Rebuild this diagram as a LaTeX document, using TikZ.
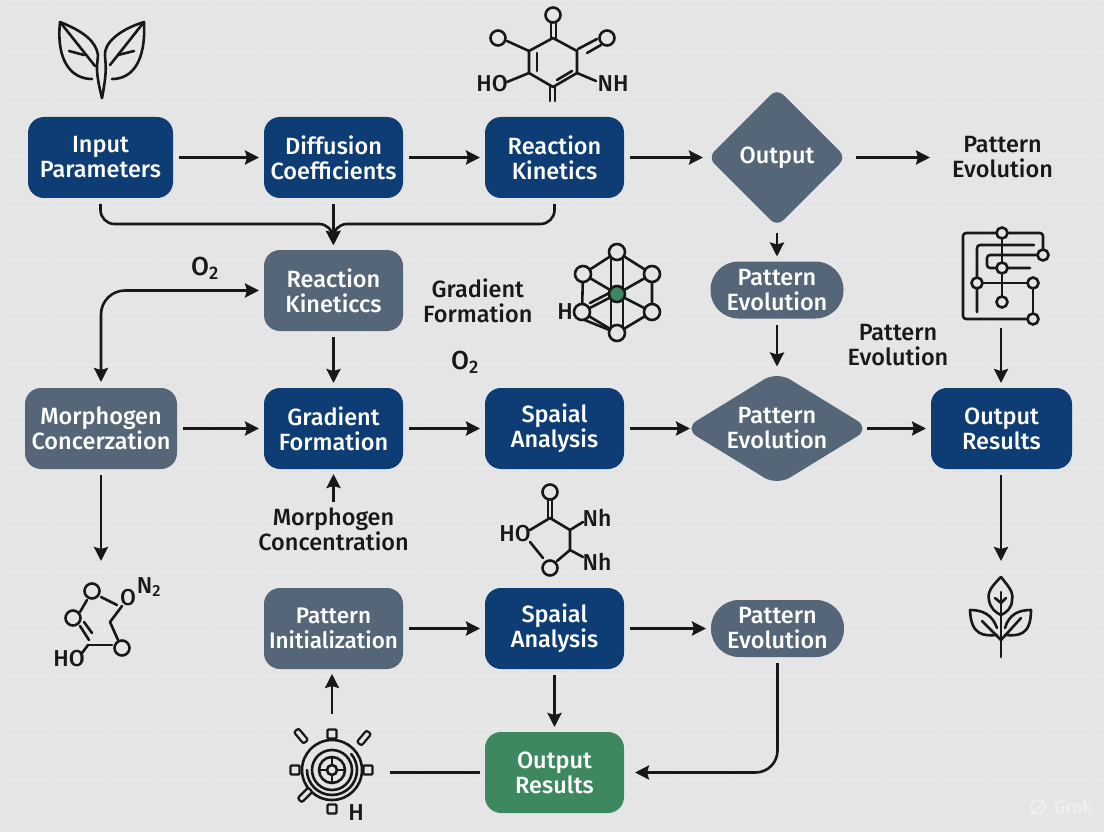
\documentclass[tikz,border=0pt]{standalone}
\usepackage{fontspec}
\setmainfont{Fira Sans Medium}
\usetikzlibrary{arrows.meta,positioning,shapes.geometric}
\definecolor{pagebg}{RGB}{229,229,229}
\definecolor{gridtone}{RGB}{233,233,233}
\definecolor{boxnavy}{RGB}{14,61,117}
\definecolor{boxslate}{RGB}{84,102,120}
\definecolor{boxgreen}{RGB}{62,136,96}
\definecolor{inkdark}{RGB}{24,24,24}
\definecolor{markfaint}{RGB}{238,239,239}

\begin{document}
\begin{tikzpicture}[x=1pt,y=-1pt,
      box/.style={rectangle,rounded corners=16pt,fill=boxnavy,text=white,inner sep=0pt,outer sep=0pt,
                  minimum height=81pt,minimum width=139pt,align=center,font=\fontsize{23.5}{25}\selectfont},
      slate/.style={box,fill=boxslate},
      pill/.style={slate,rounded corners=28pt,minimum height=57pt,minimum width=133pt},
      gate/.style={diamond,rounded corners=9pt,fill=boxslate,text=white,inner sep=0pt,outer sep=0pt,
                  align=center,font=\fontsize{23.5}{25}\selectfont},
      lbl/.style={align=center,text=inkdark,inner sep=0pt,font=\fontsize{23.5}{25}\selectfont},
      a/.style={-{Stealth[length=14pt,width=14pt,inset=2pt]},draw=inkdark,line width=2.6pt,shorten <=6pt,shorten >=5pt},
      ico/.style={draw=inkdark,line width=2.6pt,line cap=round,line join=round},
      atom/.style={circle,draw=inkdark,line width=2.6pt,fill=pagebg,inner sep=0pt,minimum size=15pt},
      chem/.style={text=inkdark,inner sep=0pt,font=\fontsize{23}{25}\selectfont}]
    \useasboundingbox (0,0) rectangle (1104,832);
    \fill[pagebg] (0,0) rectangle (1104,832);
    \draw[gridtone,line width=1pt] (0,0) grid[step=52pt] (1104,832);
    % top row
    \node[box,minimum width=145pt] (in) at (100.5,157.5) {Input\\Parameters};
    \node[box,right=91pt of in] (diff) {Diffusion\\Coefficients};
    \node[box,right=82pt of diff] (kin) {Reaction\\Kinetics};
    \node[gate,minimum width=138pt,minimum height=138pt,right=84pt of kin] (out1) {Output};
    \node[lbl,right=106pt of out1] (pe1) {Pattern\\Evolution};
    % second row
    \node[slate,below=52pt of diff] (kin2) {Reaction\\Kineticcs};
    \node[lbl,right=20pt of kin2,yshift=-10pt] (gf) {Gradient\\Formation};
    \node[pill,below=35pt of out1] (evo1) {Pattern\\Evolution};
    % main row
    \node[box,below=57pt of kin2] (grad) {Gradient\\Formation};
    \node[slate,minimum width=152pt,left=87pt of grad] (morph) {Morphogen\\Concerzation};
    \node[box,right=82pt of grad] (spat1) {Spaial\\Analysis};
    \node[gate,aspect=1.6,rounded corners=15pt,minimum width=186pt,minimum height=114pt,right=60pt of spat1] (gate2) {Pattern\\Evolution};
    \node[box,minimum width=141pt,right=61pt of gate2] (res1) {Output\\Results};
    % lower rows
    \node[lbl,below=39pt of grad] (mc) {Morphogen\\Concentration};
    \node[slate,font=\fontsize{22.5}{25}\selectfont,below=119pt of grad] (init) {Pattern\\Initialization};
    \node[box,right=82pt of init] (spat2) {Spaial\\Analysis};
    \node[pill,right=87pt of spat2] (evo2) {Pattern\\Evolution};
    \node[box,fill=boxgreen,below=63pt of spat2] (res2) {Output\\Results};
    % loose labels
    \node[lbl,font=\fontsize{26}{26}\selectfont] (o2a) at (205,268) {O\textsubscript{2}};
    \node[lbl,font=\fontsize{26}{26}\selectfont] (o2b) at (465,362) {O\textsubscript{2}};
    \node[lbl] (pe2) at (898,345) {Pattern\\Evolution};
    % free ends at the icons
    \coordinate (join) at (333,224);
    \coordinate (molc) at (99,566);
    \coordinate (sprig) at (1001,566);
    \coordinate (treeb) at (1001,322);
    \coordinate (wheelt) at (332,720);
    \coordinate (wheelr) at (390,772.5);
    % connectors
    \draw[a] (in)--(diff); \draw[a] (diff)--(kin); \draw[a] (kin)--(out1);
    \draw[a,shorten <=10pt,shorten >=22pt] (out1)--(pe1);
    \draw[a] (diff.south)--(kin2.north);
    \draw[a,rounded corners=14pt] (in.south) |- (join) -- (kin2.north);
    \draw[a,rounded corners=14pt] (kin.south) |- (join) -- (kin2.north);
    \draw[a] (kin2)--(grad); \draw[a] (morph)--(grad); \draw[a] (grad)--(spat1);
    \draw[a,shorten >=-6pt] (spat1)--(gate2); \draw[a,shorten <=-3pt] (gate2)--(res1);
    \draw[a] (out1)--(evo1); \draw[a] (evo1)--(gate2);
    \draw[{Stealth[length=14pt,width=14pt,inset=2pt]}-{Stealth[length=14pt,width=14pt,inset=2pt]},draw=inkdark,line width=2.6pt,shorten <=6pt,shorten >=5pt,rounded corners=24pt] (morph.north) |- (kin2.west);
    \draw[a] (morph.south)--(morph.south|-molc);
    \draw[a] (mc)--(grad);
    \draw[a] (treeb)--(res1.north-|treeb);
    \draw[a] (res1.south-|sprig)--(sprig);
    \draw[a] (init)--(spat2); \draw[a] (spat2)--(evo2); \draw[a] (spat2)--(res2);
    \draw[a,rounded corners=22pt,shorten >=11pt] (evo2.south) |- (res2.east);
    \draw[a] (wheelt)--(init.south-|wheelt);
    \draw[draw=inkdark,line width=2.6pt,shorten >=5pt] (wheelr)--(res2.west);
    % leaf, top left
    \draw[ico] (92,79) .. controls (72,79) and (56,62) .. (60,22) .. controls (85,32) and (96,42) .. (98,55) .. controls (98,63) and (94,67) .. (102,98);
    \draw[ico] (112,79) .. controls (132,79) and (146,62) .. (144,22) .. controls (118,30) and (104,44) .. (105,55) .. controls (105,63) and (108,67) .. (102,98);
    \draw[ico] (60,22)--(95,66); \draw[ico] (144,22)--(110,65);
    \draw[ico] (69,51)--(84,55); \draw[ico] (118,55)--(134,51);
    % ring molecule, top
    \draw[ico] (553,38)--(577,51)--(577,73)--(553,87)--(529,73)--(529,51)--cycle;
    \draw[ico] (537,53)--(537,71); \draw[ico] (557,80)--(572,71);
    \draw[ico] (551,23)--(551,38); \draw[ico] (556,23)--(556,38);
    \draw[ico] (507,41)--(529,51); \draw[ico] (507,82)--(529,73); \draw[ico] (577,73)--(596,81);
    \draw[ico] (578,49)--(597,39); \draw[ico] (587,53)--(601,45);
    \draw[ico] (550,87)--(550,101); \draw[ico] (555,87)--(555,101);
    \node[atom] (ma1) at (553,15) {}; \node[atom] (ma2) at (498,38) {}; \node[atom] (ma3) at (607,38) {};
    \node[chem] (mah) at (492,84) {HO}; \node[chem] (man) at (613,84) {NH};
    % cage molecule
    \foreach \pa/\pb/\na in {617/252/ct,583/274/cu,652/274/cv,582/312/cw,652/312/cx,617/333/cy}
      \coordinate (\na) at (\pa,\pb);
    \coordinate (cm) at (617,294);
    \draw[ico] (ct)--(cu)--(cw)--(cy)--(cx)--(cv)--(ct);
    \foreach \na in {cu,cv,cw,cx} \draw[ico] (\na)--(cm);
    \draw[ico] (611,252)--(611,333); \draw[ico] (623,252)--(623,333);
    \draw[ico] (582,319)--(617,333); \draw[ico] (590,303)--(617,289);
    \foreach \na in {ct,cu,cv,cw,cx,cy} \node[atom,minimum size=16pt] at (\na) {};
    \node[atom,fill=boxgreen,minimum size=16pt] (cmid) at (cm) {};
    \node[chem] (chh) at (565,312) {H};
    % circuit tree
    \draw[ico,rounded corners=3pt] (1002,233)--(963,233)--(963,319)--(1033,319);
    \draw[ico,rounded corners=3pt] (1002,233)--(1043,233)--(1043,255);
    \draw[ico,rounded corners=3pt] (977,312)--(977,245)--(1034,245);
    \draw[ico,rounded corners=3pt] (1037,255)--(987,255)--(987,268)--(1030,268);
    \draw[ico] (1002,233)--(1002,302); \draw[ico] (977,283)--(1033,283)--(1033,319);
    \foreach \pa/\pb in {1002/233,1043/255,1002/268,977/283,1033/283,1002/302,1033/319}
      \node[atom,minimum size=11pt] at (\pa,\pb) {};
    % molecule, lower left
    \draw[ico] (101,597)--(117,605); \draw[ico] (122,606)--(110,622)--(118,640);
    \draw[ico] (87,600)--(80,612); \draw[ico] (80,626)--(89,640); \draw[ico] (84,622)--(92,633);
    \draw[ico] (88,645)--(112,645); \draw[ico] (88,645)--(82,653);
    \node[atom] (mb1) at (92,591) {}; \node[atom] (mb2) at (73,618) {}; \node[atom] (mb3) at (122,648) {};
    \node[chem] (mbo) at (128,598) {O}; \node[chem] (mbn) at (149,587) {N\textsubscript{2}};
    \node[chem] (mbh) at (69,659) {HO};
    % molecule, centre
    \draw[ico] (548,500)--(548,518); \draw[ico] (552,500)--(552,518);
    \draw[ico] (583,522)--(570,530)--(570,550)--(583,557);
    \draw[ico] (530,530)--(550,518)--(570,530); \draw[ico] (530,542)--(543,558); \draw[ico] (570,550)--(557,561);
    \node[atom] (mc1) at (550,492) {}; \node[atom] (mc2) at (550,568) {};
    \node[chem] (mch) at (515,534) {HO}; \node[chem] (mcn) at (597,518) {Nh}; \node[chem] (mcm) at (597,562) {Nh};
    % wheel
    \foreach \rr in {5,13,20,30} \draw[ico] (332,770) circle[radius=\rr pt];
    \draw[ico] (307,770) arc[start angle=180,end angle=400,radius=25pt];
    \foreach \ang in {0,90,180,270} \draw[ico,line width=1.8pt] (332,770)++(\ang:5pt)--++(\ang:8pt);
    \foreach \pa/\pb in {332/734,295/770,368/770,332/809}
      \node[rectangle,draw=inkdark,line width=2.4pt,fill=pagebg,minimum size=9pt,inner sep=0pt,rounded corners=1pt] at (\pa,\pb) {};
    \foreach \pa/\pb/\ang in {301/736/-50,364/738/50,305/795/45}
      \node[rectangle,draw=inkdark,line width=2.2pt,fill=pagebg,minimum width=15pt,minimum height=6pt,inner sep=0pt,rounded corners=2pt,rotate=\ang] at (\pa,\pb) {};
    \node[chem] (whh) at (356,813) {H};
    % sprig
    \draw[ico] (1001,577) .. controls (992,586) and (987,592) .. (989,600) .. controls (990,608) and (996,613) .. (1001,615) .. controls (1006,613) and (1012,608) .. (1012,600) .. controls (1014,592) and (1008,586) .. (1001,577);
    \draw[ico] (1001,592)--(1001,657); \draw[ico] (995,598)--(1001,603)--(1006,598);
    \draw[ico] (997,635) .. controls (984,636) and (971,636) .. (970,610) .. controls (982,610) and (992,614) .. (997,628);
    \draw[ico] (1005,635) .. controls (1018,636) and (1031,636) .. (1031,610) .. controls (1019,610) and (1009,614) .. (1005,628);
    \draw[ico] (982,621)--(1001,640)--(1021,618);
    % watermark
    \draw[markfaint,line width=2pt] (1038,807) circle[radius=7pt];
    \draw[markfaint,line width=2pt] (1032,815)--(1045,799);
    \node[text=markfaint,inner sep=0pt,font=\fontsize{18}{20}\selectfont] (grk) at (1073,807) {Grok};
  \end{tikzpicture}
\end{document}
